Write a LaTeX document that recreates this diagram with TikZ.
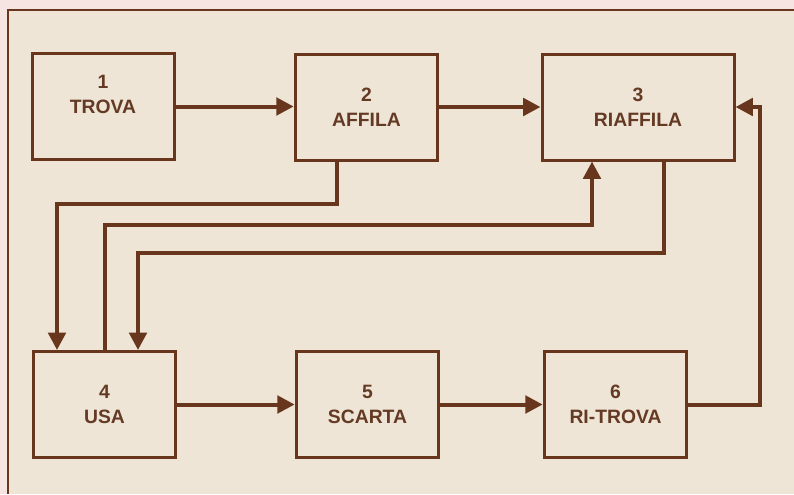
\documentclass[tikz,border=0pt]{standalone}
\usepackage{fontspec}
\setmainfont{Liberation Sans}
\usetikzlibrary{arrows.meta,calc}

\definecolor{brownline}{RGB}{104,54,28}
\definecolor{browntext}{RGB}{100,58,36}
\definecolor{panelbg}{RGB}{238,229,215}
\definecolor{marble}{RGB}{246,228,226}

\tikzset{every picture/.style={line width=0.75pt}}
\tikzset{
  stepbox/.style={draw=brownline, line width=2.25pt, fill=panelbg, text=browntext,
    minimum height=79.5pt, inner sep=0pt, align=center,
    font=\fontsize{14.5}{18.75}\selectfont\bfseries},
  conn/.style={draw=brownline, line width=3pt,
    -{Triangle[length=13pt,width=13pt]}},
}

\begin{document}
\begin{tikzpicture}[x=0.75pt,y=0.75pt,yscale=-1,xscale=1]
\useasboundingbox (0,0) rectangle (794,494);

%Shape: Background
\fill [marble] (0,0) rectangle (794,494);
\fill [panelbg] (8,10) rectangle (794,494);
\draw [brownline, line width=1.1pt] (8,494) -- (8,10) -- (794,10);

% Boxes
\node [stepbox, minimum width=106.5pt] (trova) at (103,106.5) {1\\TROVA\\\phantom{T}};
\node [stepbox, minimum width=107pt] (affila) at (366.5,107) {2\\AFFILA};
\node [stepbox, minimum width=144pt] (riaffila) at (638,107) {3\\RIAFFILA};
\node [stepbox, minimum width=107pt] (usa) at (104.5,404.5) {4\\USA};
\node [stepbox, minimum width=107pt] (scarta) at (367.5,404.5) {5\\SCARTA};
\node [stepbox, minimum width=107pt] (ritrova) at (615.5,404.5) {6\\RI-TROVA};

%Straight Lines
\draw [conn] (trova.east) -- (trova.east -| affila.west);
\draw [conn] (affila.east) -- (affila.east -| riaffila.west);
\draw [conn] (usa.east) -- (scarta.west);
\draw [conn] (scarta.east) -- (ritrova.west);

%Connectors between rows
\draw [conn] ($(affila.south)+(-29.5,0)$) -- ++(0,42) -| ($(usa.north)+(-47.5,0)$);
\draw [conn] (usa.north) -- ++(0,-125) -| ($(riaffila.south)+(-46,0)$);
\draw [conn] ($(riaffila.south)+(26,0)$) -- ++(0,91) -| ($(usa.north)+(33.5,0)$);
\draw [conn] (ritrova.east) -- ++(72,0) |- (riaffila.east);

\end{tikzpicture}
\end{document}
